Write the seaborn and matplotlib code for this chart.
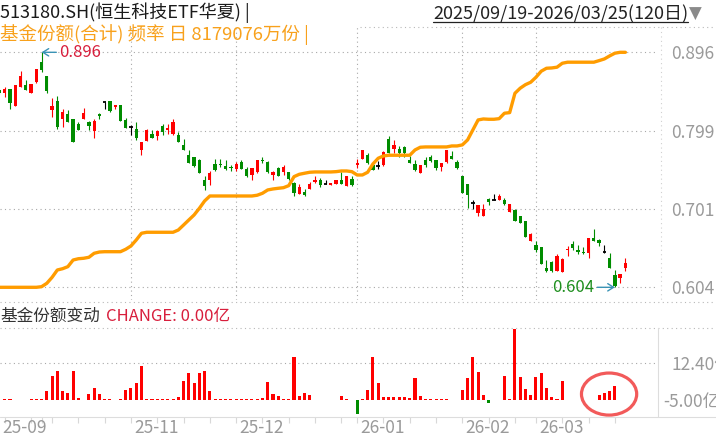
import matplotlib
matplotlib.use("Agg")
import matplotlib.pyplot as plt
import seaborn as sns
import pandas as pd
import numpy as np
from matplotlib.lines import Line2D
from matplotlib.patches import Ellipse
from matplotlib.transforms import blended_transform_factory

sns.set_theme(style="white")
plt.rcParams['font.family'] = ['Noto Sans CJK SC', 'DejaVu Sans']
plt.rcParams['axes.unicode_minus'] = False

# trading calendar
start_date = "2025-09-19"
end_date = "2026-03-25"
holidays = ["2025-10-01", "2025-10-02", "2025-10-03", "2025-10-06", "2025-10-07", "2025-10-08",
            "2026-01-01", "2026-01-02",
            "2026-02-16", "2026-02-17", "2026-02-18", "2026-02-19", "2026-02-20", "2026-02-23"]

# daily candles (price)
opens = [0.849, 0.846, 0.850, 0.829, 0.853, 0.855, 0.846, 0.859, 0.884, 0.866,
         0.824, 0.836, 0.813, 0.819, 0.813, 0.807, 0.813, 0.809, 0.798, 0.819,
         0.834, 0.836, 0.828, 0.830, 0.812, 0.803, 0.801, 0.774, 0.786, 0.795,
         0.792, 0.804, 0.800, 0.794, 0.793, 0.781, 0.768, 0.766, 0.762, 0.737,
         0.737, 0.757, 0.757, 0.755, 0.754, 0.751, 0.760, 0.751, 0.743, 0.747,
         0.762, 0.760, 0.743, 0.752, 0.747, 0.747, 0.733, 0.720, 0.722, 0.726,
         0.735, 0.737, 0.732, 0.731, 0.732, 0.737, 0.730, 0.739, 0.756, 0.764,
         0.768, 0.756, 0.755, 0.756, 0.788, 0.776, 0.776, 0.778, 0.762, 0.757,
         0.746, 0.762, 0.766, 0.762, 0.754, 0.760, 0.767, 0.760, 0.742, 0.732,
         0.709, 0.696, 0.693, 0.714, 0.713, 0.712, 0.713, 0.697, 0.700, 0.692,
         0.686, 0.662, 0.657, 0.654, 0.628, 0.636, 0.624, 0.623, 0.650, 0.658,
         0.650, 0.648, 0.647, 0.665, 0.663, 0.648, 0.641, 0.619, 0.615, 0.628]
highs = [0.850, 0.853, 0.851, 0.855, 0.873, 0.862, 0.857, 0.875, 0.896, 0.866,
         0.839, 0.842, 0.825, 0.824, 0.813, 0.810, 0.827, 0.811, 0.813, 0.821,
         0.834, 0.836, 0.831, 0.830, 0.814, 0.806, 0.809, 0.784, 0.801, 0.799,
         0.800, 0.807, 0.807, 0.813, 0.797, 0.788, 0.775, 0.766, 0.764, 0.742,
         0.748, 0.763, 0.764, 0.762, 0.756, 0.760, 0.762, 0.753, 0.752, 0.762,
         0.766, 0.761, 0.749, 0.754, 0.756, 0.747, 0.735, 0.732, 0.726, 0.735,
         0.742, 0.740, 0.737, 0.733, 0.737, 0.747, 0.742, 0.742, 0.763, 0.775,
         0.771, 0.760, 0.761, 0.773, 0.792, 0.787, 0.780, 0.779, 0.767, 0.762,
         0.756, 0.766, 0.768, 0.762, 0.758, 0.774, 0.773, 0.762, 0.742, 0.732,
         0.713, 0.706, 0.708, 0.715, 0.720, 0.720, 0.715, 0.708, 0.701, 0.692,
         0.686, 0.672, 0.661, 0.654, 0.638, 0.637, 0.645, 0.641, 0.655, 0.662,
         0.657, 0.654, 0.665, 0.677, 0.664, 0.656, 0.646, 0.625, 0.621, 0.640]
lows = [0.844, 0.841, 0.826, 0.829, 0.853, 0.849, 0.846, 0.858, 0.871, 0.846,
        0.815, 0.801, 0.803, 0.809, 0.784, 0.799, 0.813, 0.799, 0.790, 0.813,
        0.825, 0.822, 0.825, 0.811, 0.802, 0.793, 0.787, 0.768, 0.786, 0.789,
        0.787, 0.793, 0.795, 0.793, 0.785, 0.774, 0.759, 0.753, 0.746, 0.725,
        0.731, 0.749, 0.754, 0.750, 0.748, 0.749, 0.751, 0.741, 0.737, 0.746,
        0.759, 0.746, 0.737, 0.742, 0.744, 0.737, 0.717, 0.720, 0.718, 0.726,
        0.734, 0.729, 0.732, 0.731, 0.732, 0.732, 0.730, 0.730, 0.752, 0.764,
        0.757, 0.750, 0.751, 0.755, 0.771, 0.771, 0.766, 0.766, 0.759, 0.748,
        0.746, 0.754, 0.760, 0.750, 0.748, 0.758, 0.763, 0.751, 0.721, 0.703,
        0.701, 0.693, 0.693, 0.706, 0.712, 0.712, 0.706, 0.697, 0.686, 0.684,
        0.666, 0.662, 0.648, 0.633, 0.623, 0.623, 0.624, 0.623, 0.643, 0.650,
        0.645, 0.645, 0.641, 0.661, 0.655, 0.646, 0.628, 0.604, 0.609, 0.624]
closes = [0.845, 0.850, 0.833, 0.855, 0.866, 0.849, 0.857, 0.875, 0.874, 0.848,
          0.829, 0.803, 0.822, 0.810, 0.784, 0.800, 0.821, 0.804, 0.811, 0.817,
          0.834, 0.823, 0.831, 0.811, 0.802, 0.803, 0.790, 0.784, 0.800, 0.789,
          0.798, 0.797, 0.802, 0.810, 0.785, 0.774, 0.759, 0.755, 0.746, 0.730,
          0.746, 0.750, 0.756, 0.751, 0.752, 0.757, 0.751, 0.742, 0.752, 0.762,
          0.761, 0.747, 0.747, 0.742, 0.753, 0.738, 0.721, 0.729, 0.719, 0.732,
          0.737, 0.731, 0.732, 0.733, 0.737, 0.732, 0.742, 0.731, 0.759, 0.774,
          0.758, 0.750, 0.755, 0.772, 0.771, 0.781, 0.771, 0.771, 0.759, 0.750,
          0.756, 0.756, 0.761, 0.752, 0.758, 0.774, 0.763, 0.752, 0.721, 0.719,
          0.709, 0.706, 0.701, 0.710, 0.713, 0.717, 0.707, 0.708, 0.686, 0.684,
          0.666, 0.670, 0.650, 0.633, 0.624, 0.624, 0.643, 0.639, 0.651, 0.653,
          0.648, 0.646, 0.665, 0.661, 0.659, 0.648, 0.628, 0.606, 0.620, 0.634]

# fund shares (亿份), last = 8179076万份
shares = [507.0, 507.0, 507.0, 507.0, 507.0, 507.0, 507.0, 507.0, 507.8, 512.3,
          520.2, 529.9, 531.6, 534.3, 543.1, 544.8, 545.4, 546.7, 552.0, 553.7,
          554.1, 554.1, 554.1, 554.1, 557.3, 561.7, 569.6, 578.5, 579.8, 579.8,
          579.8, 579.8, 579.8, 579.8, 582.8, 589.4, 596.1, 602.7, 611.5, 621.2,
          627.8, 627.8, 627.8, 627.8, 627.8, 627.8, 627.8, 627.8, 627.8, 628.8,
          631.4, 635.8, 637.1, 638.0, 638.8, 641.5, 653.4, 656.5, 657.9, 659.2,
          659.6, 659.6, 659.6, 659.6, 660.0, 660.9, 660.9, 660.0, 655.6, 655.6,
          659.2, 670.2, 677.7, 680.8, 681.7, 681.7, 681.7, 681.7, 681.7, 688.7,
          692.3, 692.7, 692.7, 692.7, 692.7, 692.7, 694.0, 694.0, 695.4, 702.0,
          715.2, 728.4, 729.7, 729.3, 729.3, 730.1, 737.3, 738.1, 763.7, 770.4,
          775.1, 778.3, 784.9, 792.9, 796.8, 797.2, 798.2, 803.4, 804.8, 804.8,
          804.8, 804.8, 804.8, 804.8, 806.9, 809.1, 813.1, 816.7, 817.9, 817.9]

# daily share change (亿)
changes = [0, 0.3, 0.3, 0, 0, 0, 0.4, 0.2, 0.5, 2.9,
           8.2, 9.9, 2.9, 2.2, 9.7, 0.6, 0, 2.1, 4.2, 2.1,
           0.2, 0.2, 0, 0.2, 3.5, 4.2, 5.6, 11.6, 0.3, 0.4,
           0.2, 0.2, 0.2, 0.2, 1.1, 6.5, 9.2, 5.6, 9.2, 9.9,
           2.9, 0.2, 0.2, 0.2, 0.2, 0.2, 0.2, 0.2, 0.4, 0.2,
           0.8, 6.0, 2.1, 1.5, 0.2, 0.2, 14.6, 1.5, 2.2, 1.6,
           0, 0, 0, 0, 0, 1.3, 0.3, 0, -4.7, 0.3,
           3.3, 14.5, 5.6, 1.0, 1.0, 1.0, 1.0, 1.0, 0.7, 7.4,
           1.3, 0.3, 0.3, 0.3, 0.3, 0.3, 0, 0, 3.3, 7.4,
           14.5, 9.4, 1.6, -1.0, 0, 0, 8.2, 0.3, 23.8, 7.8,
           3.6, 1.8, 7.7, 9.0, 4.2, 0.9, 0.3, 6.5, 0, 0,
           0, 0, 0, 0, 1.8, 2.2, 3.2, 4.8, 0, 0]

title_main = "513180.SH(恒生科技ETF华夏) |"
title_share = "基金份额(合计) 频率 日 8179076万份 |"
date_range = "2025/09/19-2026/03/25(120日)"
sub_title = "基金份额变动"
sub_value = "CHANGE: 0.00亿"

RED = "#ff0000"
GREEN = "#008c00"
ORANGE = "#ff9c00"
GRID = "#a8a8a8"
LABEL = "#9a9a9a"

W, H = 716, 440
dates = pd.bdate_range(start_date, end_date)
dates = dates[~dates.isin(pd.to_datetime(holidays))]
x = np.arange(len(dates))
o, hi_, lo_, c = map(np.array, (opens, highs, lows, closes))
chg = np.array(changes)

fig = plt.figure(figsize=(W / 100, H / 100), dpi=100)
fig.patch.set_facecolor("white")

def fy(py):
    return 1 - py / H

ax1 = fig.add_axes([0, fy(300), 658 / W, 273 / H])
ax2 = fig.add_axes([0, fy(416.7), 658 / W, 88.4 / H])
for ax in (ax1, ax2):
    ax.set_facecolor("none")
    for s in ax.spines.values():
        s.set_visible(False)
    ax.set_xlim(0.1, 125.2)

# month gridlines / labels, weekly ticks
months = pd.Series(dates.to_period("M"))
month_start = list(np.flatnonzero(months.ne(months.shift()).values))
label_idx = []
for i in month_start:
    if not label_idx or i - label_idx[-1] > 12:
        label_idx.append(i)
grid_idx = [i for i in label_idx if i > 0]
weeks = pd.Series(dates.to_period("W"))
week_idx = [i for i in np.flatnonzero(weeks.ne(weeks.shift()).values) if i > 0]

# fund shares line on its own scale (twin made first: twinx resets tick sides)
ax1b = ax1.twinx()
s_arr = np.array(shares)
s_lo, s_hi = s_arr.min(), s_arr.max()
s_span = s_hi - s_lo
sns.lineplot(x=x, y=s_arr, ax=ax1b, color=ORANGE, linewidth=2.4)
ax1b.set_ylim(s_lo - s_span * 12.7 / 235, s_hi + s_span * 25.3 / 235)
ax1b.set_xlim(0.1, 125.2)
ax1b.set_yticks([])
ax1b.set_ylabel("")
for s in ax1b.spines.values():
    s.set_visible(False)

# price panel
lo, hi = lo_.min(), hi_.max()
span = hi - lo
ax1.set_ylim(lo - span * 12.7 / 235, hi + span * 25.3 / 235)
ticks = np.linspace(lo, hi, 4)
ax1.set_yticks(ticks)
ax1.set_yticklabels([f"{t:.3f}" for t in ticks])
ax1.set_xticks(grid_idx)
ax1.tick_params(axis="x", bottom=False, labelbottom=False)
ax1.yaxis.set_ticks_position("right")
ax1.tick_params(axis="y", left=False, right=False, labelleft=False, labelright=True,
                pad=3.6, labelsize=12.5, labelcolor=LABEL)
ax1.grid(True, color=GRID, linestyle=(0, (1, 3)), linewidth=0.8)
ax1.set_axisbelow(True)

col = np.where(c > o, RED, np.where(c < o, GREEN, "black"))
ax1.vlines(x, lo_, hi_, colors=col, linewidth=0.8, zorder=2)
ax1.bar(x, np.abs(c - o), bottom=np.minimum(o, c), width=0.62, color=col, linewidth=0, zorder=3)
flat = c == o
ax1.hlines(o[flat], x[flat] - 0.33, x[flat] + 0.33, colors="black", linewidth=1.3, zorder=3)

imax, imin = int(np.argmax(hi_)), int(np.argmin(lo_))
ax1.annotate(f"{hi:.3f}", xy=(imax, hi), xytext=(13, 0), textcoords="offset points",
             ha="left", va="center", fontsize=12, color="#d81e3c",
             arrowprops=dict(arrowstyle="->,head_length=0.35,head_width=0.22", color="#3a93b5",
                             lw=1.0, shrinkA=0, shrinkB=0))
ax1.annotate(f"{lo:.3f}", xy=(imin, lo), xytext=(-15, 0), textcoords="offset points",
             ha="right", va="center", fontsize=12, color="#1f8f1f",
             arrowprops=dict(arrowstyle="->,head_length=0.35,head_width=0.22", color="#3a93b5",
                             lw=1.0, shrinkA=0, shrinkB=0))

# change panel
ax2.set_ylim(-5.64, 24.2)
ax2.bar(x, chg, width=0.58, color=np.where(chg >= 0, RED, GREEN), linewidth=0, zorder=3)
ax2.set_yticks([12.4])
ax2.set_yticklabels(["12.40亿"])
ax2.yaxis.set_ticks_position("right")
ax2.tick_params(axis="y", left=False, right=False, labelleft=False, labelright=True,
                pad=3.6, labelsize=12.5, labelcolor=LABEL)
ax2.text(663 / 658, (416.7 - 402) / 88.4, "-5.00亿", transform=ax2.transAxes,
         ha="left", va="center", fontsize=12.5, color=LABEL, clip_on=False)
ax2.set_xticks(week_idx)
ax2.set_xticks(grid_idx, minor=True)
ax2.tick_params(axis="x", which="major", direction="out", length=4, width=0.8,
                color="#d8d8d8", labelbottom=False, bottom=True)
ax2.tick_params(axis="x", which="minor", length=0, labelbottom=False)
ax2.grid(True, axis="y", which="major", color=GRID, linestyle=(0, (1, 3)), linewidth=0.8)
ax2.grid(True, axis="x", which="minor", color=GRID, linestyle=(0, (1, 3)), linewidth=0.8)
ax2.set_axisbelow(True)

tr = blended_transform_factory(ax2.transData, ax2.transAxes)
for i in label_idx:
    ax2.text(i + 0.55, (416.7 - 428) / 88.4, dates[i].strftime("%y-%m"), transform=tr,
             ha="left", va="center", fontsize=12.5, color=LABEL, clip_on=False)

last = np.flatnonzero(chg != 0)[-4:]
ax2.add_patch(Ellipse((last.mean() + 0.4, 2.0), width=10.5, height=14.2, fill=False,
                      edgecolor="#f25a5a", linewidth=2.3, zorder=4))

# frame lines
dot = dict(color="#b8b8b8", linestyle=(0, (1, 3)), linewidth=0.8)
fig.add_artist(Line2D([360 / W, 1], [fy(27), fy(27)], **dot))
fig.add_artist(Line2D([0, 1], [fy(301.7), fy(301.7)], **dot))
fig.add_artist(Line2D([0, 1], [fy(328.3), fy(328.3)], **dot))
fig.add_artist(Line2D([661 / W, 661 / W], [fy(27), fy(301.7)], color="#d0d0d0",
                      linestyle=(0, (1, 3)), linewidth=0.8))
fig.add_artist(Line2D([0, 1], [fy(416.7), fy(416.7)], color="#dddddd", linewidth=0.8))
fig.add_artist(Line2D([658 / W, 658 / W], [fy(328.3), fy(416.7)], color="#dddddd", linewidth=0.8))

# titles
fig.text(0, fy(13), title_main, ha="left", va="center", fontsize=13, color="#1a1a1a")
fig.text(0, fy(35), title_share, ha="left", va="center", fontsize=13.3, color="#f8a11c")
t_rng = fig.text(433 / W, fy(14), date_range, ha="left", va="center", fontsize=13, color="#222222")
fig.text(689 / W, fy(14), "▼", ha="left", va="center", fontsize=12, color="#8a8a8a",
         family="DejaVu Sans")
t_sub = fig.text(0, fy(316), sub_title, ha="left", va="center", fontsize=12, color="#333333")

renderer = fig.canvas.get_renderer()
bb = t_rng.get_window_extent(renderer)
fig.add_artist(Line2D([bb.x0 / W, bb.x1 / W], [fy(21.7), fy(21.7)], color="#222222", linewidth=0.9))
bb2 = t_sub.get_window_extent(renderer)
fig.text(bb2.x1 / W + 6 / W, fy(316), sub_value, ha="left", va="center", fontsize=12, color="#d81e3c")

fig.savefig("out.png", dpi=100, facecolor="white")
